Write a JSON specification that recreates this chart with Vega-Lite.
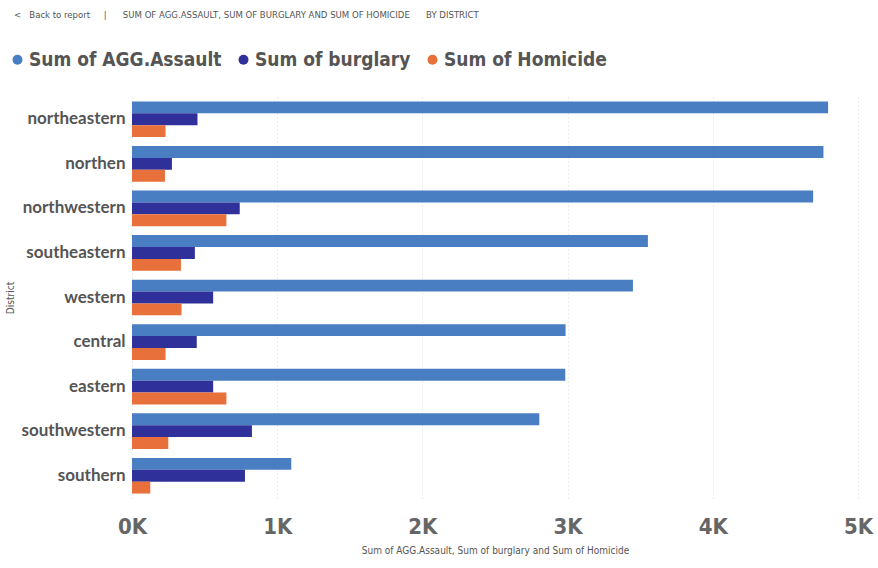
{
  "$schema": "https://vega.github.io/schema/vega-lite/v6.json",
  "autosize": {"type": "none"},
  "width": 726,
  "height": 401,
  "padding": {"left": 132, "top": 97, "right": 20, "bottom": 70},
  "background": "white",
  "title": {
    "text": "<\u00a0\u00a0\u00a0Back to report\u00a0\u00a0\u00a0\u00a0\u00a0|\u00a0\u00a0\u00a0\u00a0\u00a0\u00a0SUM OF AGG.ASSAULT, SUM OF BURGLARY AND SUM OF HOMICIDE\u00a0\u00a0\u00a0\u00a0\u00a0\u00a0BY DISTRICT",
    "anchor": "start",
    "frame": "group",
    "orient": "top",
    "fontSize": 9.5,
    "fontWeight": "normal",
    "font": "DejaVu Sans Condensed, sans-serif",
    "color": "#555",
    "dx": -118,
    "dy": -27
  },
  "data": {
    "values": [
      {"district": "northeastern", "series": "Sum of AGG.Assault", "value": 4794},
      {"district": "northeastern", "series": "Sum of burglary", "value": 451},
      {"district": "northeastern", "series": "Sum of Homicide", "value": 231},
      {"district": "northen", "series": "Sum of AGG.Assault", "value": 4762},
      {"district": "northen", "series": "Sum of burglary", "value": 275},
      {"district": "northen", "series": "Sum of Homicide", "value": 227},
      {"district": "northwestern", "series": "Sum of AGG.Assault", "value": 4691},
      {"district": "northwestern", "series": "Sum of burglary", "value": 742},
      {"district": "northwestern", "series": "Sum of Homicide", "value": 650},
      {"district": "southeastern", "series": "Sum of AGG.Assault", "value": 3553},
      {"district": "southeastern", "series": "Sum of burglary", "value": 433},
      {"district": "southeastern", "series": "Sum of Homicide", "value": 337},
      {"district": "western", "series": "Sum of AGG.Assault", "value": 3450},
      {"district": "western", "series": "Sum of burglary", "value": 559},
      {"district": "western", "series": "Sum of Homicide", "value": 341},
      {"district": "central", "series": "Sum of AGG.Assault", "value": 2986},
      {"district": "central", "series": "Sum of burglary", "value": 446},
      {"district": "central", "series": "Sum of Homicide", "value": 231},
      {"district": "eastern", "series": "Sum of AGG.Assault", "value": 2984},
      {"district": "eastern", "series": "Sum of burglary", "value": 559},
      {"district": "eastern", "series": "Sum of Homicide", "value": 650},
      {"district": "southwestern", "series": "Sum of AGG.Assault", "value": 2805},
      {"district": "southwestern", "series": "Sum of burglary", "value": 826},
      {"district": "southwestern", "series": "Sum of Homicide", "value": 250},
      {"district": "southern", "series": "Sum of AGG.Assault", "value": 1097},
      {"district": "southern", "series": "Sum of burglary", "value": 778},
      {"district": "southern", "series": "Sum of Homicide", "value": 126}
    ]
  },
  "mark": {"type": "bar"},
  "encoding": {
    "y": {
      "field": "district",
      "type": "nominal",
      "sort": ["northeastern", "northen", "northwestern", "southeastern", "western", "central", "eastern", "southwestern", "southern"],
      "scale": {"paddingInner": 0.2, "paddingOuter": 0.1},
      "axis": {
        "title": "District",
        "titleFontSize": 10,
        "titleFontWeight": "normal",
        "titleColor": "#555",
        "titleFont": "DejaVu Sans Condensed, sans-serif",
        "titlePadding": 6,
        "labelFontSize": 17,
        "labelFontWeight": "bold",
        "labelColor": "#555",
        "labelFont": "Lato, sans-serif",
        "labelPadding": 7,
        "ticks": false,
        "domain": false
      }
    },
    "yOffset": {
      "field": "series",
      "type": "nominal",
      "sort": ["Sum of AGG.Assault", "Sum of burglary", "Sum of Homicide"],
      "scale": {"paddingInner": 0, "paddingOuter": 0}
    },
    "x": {
      "field": "value",
      "type": "quantitative",
      "scale": {"domain": [0, 5000], "nice": false},
      "axis": {
        "values": [0, 1000, 2000, 3000, 4000, 5000],
        "labelExpr": "datum.value / 1000 + 'K'",
        "labelFontSize": 22,
        "labelFontWeight": "bold",
        "labelColor": "#666",
        "labelFont": "DejaVu Sans Condensed, sans-serif",
        "labelPadding": 18,
        "labelFlush": false,
        "ticks": false,
        "domain": false,
        "grid": true,
        "gridColor": "#d8d8d8",
        "gridDash": [1, 3],
        "title": "Sum of AGG.Assault, Sum of burglary and Sum of Homicide",
        "titleFontSize": 10,
        "titleFontWeight": "normal",
        "titleColor": "#555",
        "titleFont": "DejaVu Sans Condensed, sans-serif",
        "titlePadding": 8
      }
    },
    "color": {
      "field": "series",
      "type": "nominal",
      "scale": {
        "domain": ["Sum of AGG.Assault", "Sum of burglary", "Sum of Homicide"],
        "range": ["#4A7EC2", "#30309A", "#E8703A"]
      },
      "legend": {
        "title": null,
        "orient": "none",
        "direction": "horizontal",
        "legendX": -124,
        "legendY": -47,
        "symbolType": "circle",
        "symbolSize": 100,
        "symbolOffset": 0,
        "labelFontSize": 19,
        "labelFontWeight": "bold",
        "labelColor": "#555",
        "labelFont": "DejaVu Sans Condensed, sans-serif",
        "labelOffset": 2,
        "columnPadding": 12,
        "labelLimit": 400
      }
    }
  },
  "config": {"view": {"stroke": null}}
}
